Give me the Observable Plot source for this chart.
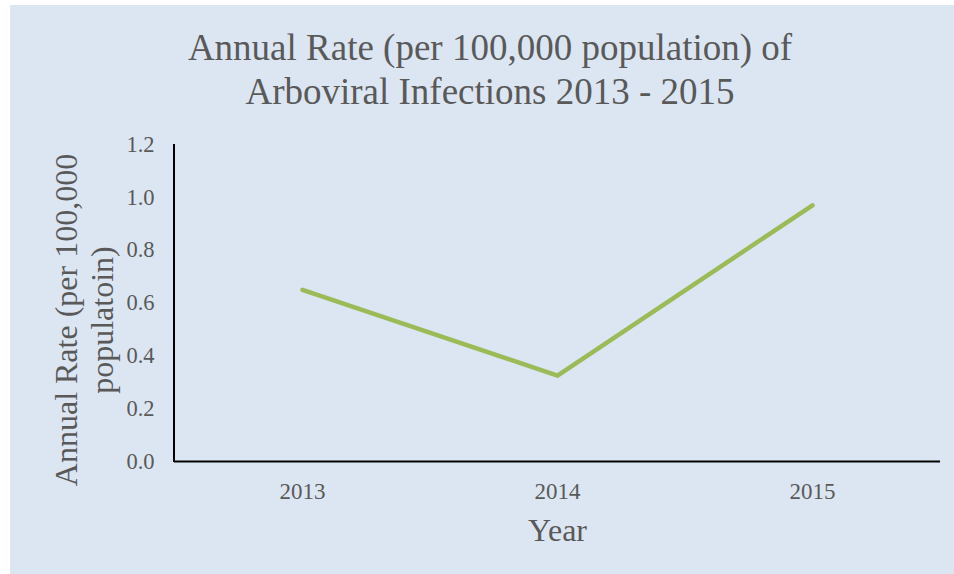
<!DOCTYPE html>
<html>
<head>
<meta charset="utf-8">
<script src="https://cdn.jsdelivr.net/npm/d3@7"></script>
<script src="https://cdn.jsdelivr.net/npm/@observablehq/plot@0.6"></script>
<style>
  html, body { margin: 0; padding: 0; background: #ffffff; width: 954px; height: 574px; overflow: hidden; }
  #panel { position: absolute; left: 10px; top: 5px; width: 944px; height: 569px; background: #dce6f2; }
  #title { position: absolute; left: 0px; top: 26px; width: 980px; text-align: center;
           font-family: "Liberation Serif", "Times New Roman", serif; font-size: 37px; line-height: 44px; color: #595959; }
  #chart { position: absolute; left: 10px; top: 130px; }
</style>
</head>
<body>
<div id="panel"></div>
<div id="title">Annual Rate (per 100,000 population) of<br>Arboviral Infections 2013 - 2015</div>
<div id="chart"></div>
<script>
const years = ["2013", "2014", "2015"];
const rates = [0.65, 0.325, 0.97];
const yTicks = [0, 0.2, 0.4, 0.6, 0.8, 1.0, 1.2];
const xTitle = "Year";
const yTitle = "Annual Rate (per 100,000\npopulatoin)";

const data = years.map((y, i) => ({year: y, rate: rates[i]}));
const font = "Liberation Serif, Times New Roman, serif";
const textColor = "#595959";

// left axis line drawn at the frame's left edge
function leftAxisLine(index, scales, values, dimensions) {
  const {marginLeft, marginTop, height, marginBottom} = dimensions;
  const line = document.createElementNS("http://www.w3.org/2000/svg", "line");
  line.setAttribute("x1", marginLeft);
  line.setAttribute("x2", marginLeft);
  line.setAttribute("y1", marginTop);
  line.setAttribute("y2", height - marginBottom + 1);
  line.setAttribute("stroke", "#000");
  line.setAttribute("stroke-width", 2);
  return line;
}

const chart = Plot.plot({
  width: 944,
  height: 444,
  marginLeft: 164,
  marginRight: 14,
  marginTop: 14,
  marginBottom: 113,
  style: { background: "transparent", fontFamily: font, color: textColor, overflow: "visible" },
  x: { type: "point", domain: years, padding: 0.5, label: null },
  y: { domain: [0, 1.2], label: null },
  marks: [
    Plot.axisY({ ticks: yTicks, tickFormat: d3.format(".1f"), tickSize: 0, tickPadding: 20,
                 fontSize: 22.5, fill: textColor, label: null }),
    Plot.axisX({ tickSize: 0, tickPadding: 21, fontSize: 23, fill: textColor, label: null }),
    Plot.ruleY([0], { stroke: "#000", strokeWidth: 2 }),
    leftAxisLine,
    Plot.line(data, { x: "year", y: "rate", stroke: "#9bbb59", strokeWidth: 4.5,
                      strokeLinecap: "round", strokeLinejoin: "round" }),
    Plot.text([xTitle], { frameAnchor: "bottom", dy: 69, lineAnchor: "middle",
                          fontSize: 32, fill: textColor }),
    Plot.text([yTitle], { frameAnchor: "left", rotate: -90, dx: -91, dy: 17,
                          lineAnchor: "middle", textAnchor: "middle", lineHeight: 1.13,
                          fontSize: 32, fill: textColor })
  ]
});
document.getElementById("chart").appendChild(chart);
</script>
</body>
</html>
